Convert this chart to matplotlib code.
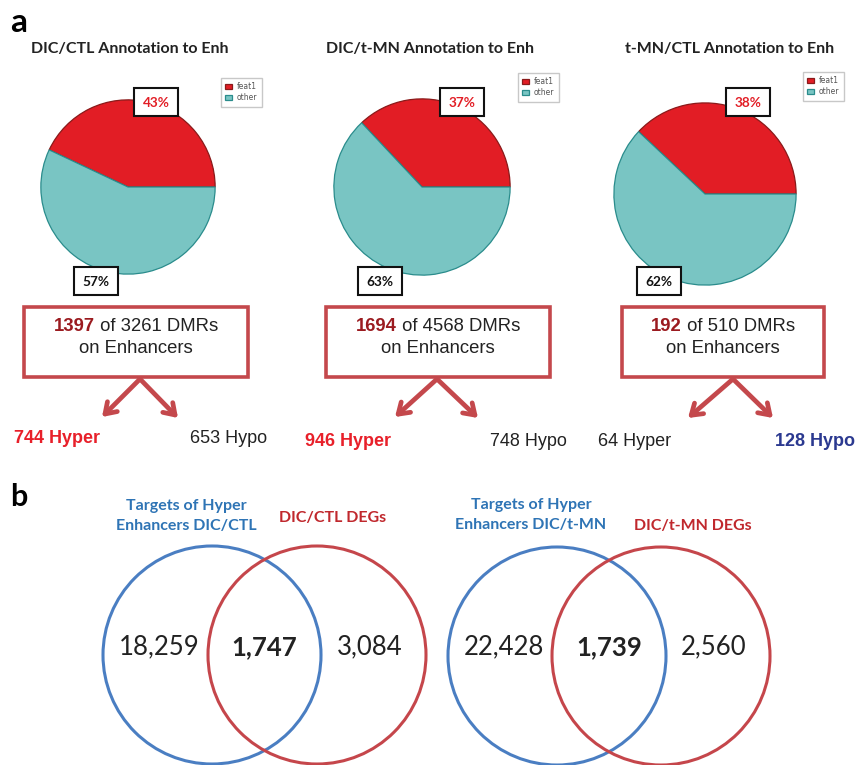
import numpy as np
import matplotlib
matplotlib.use("Agg")
import matplotlib.pyplot as plt
from matplotlib.patches import Rectangle, Circle

# ---- data ----
pie_titles = ["DIC/CTL Annotation to Enh", "DIC/t-MN Annotation to Enh", "t-MN/CTL Annotation to Enh"]
feat1_pct = [43, 37, 38]
other_pct = [57, 63, 62]
dmr_enh = [1397, 1694, 192]
dmr_total = [3261, 4568, 510]
n_hyper = [744, 946, 64]
n_hypo = [653, 748, 128]

venn_left_labels = ["Targets of Hyper\nEnhancers DIC/CTL", "Targets of Hyper\nEnhancers DIC/t-MN"]
venn_right_labels = ["DIC/CTL DEGs", "DIC/t-MN DEGs"]
venn_only_targets = [18259, 22428]
venn_overlap = [1747, 1739]
venn_only_degs = [3084, 2560]

W, H = 858, 765
RED = "#E21D25"
TEAL = "#79C5C3"
BOXRED = "#C4484C"
DARKRED = "#9B1B20"
HYPO_BLUE = "#2B3990"
VBLUE = "#4A7EC2"
VRED = "#C5464B"
LBLUE = "#2E74B5"
LRED = "#C0282D"

CAL = "Lato"
HEL = "Liberation Sans"

fig = plt.figure(figsize=(W / 100, H / 100), dpi=100)
ax = fig.add_axes([0, 0, 1, 1])
ax.set_xlim(0, W)
ax.set_ylim(H, 0)
ax.axis("off")
ax.set_zorder(10)  # keep label boxes above the pie axes

# panel layout (pixels)
pie_cx = [128, 422, 705]
pie_cy = [187, 187, 194]
pie_r = [88, 89, 92]
title_x = [130, 430, 730]
legend_xy = [(217, 74), (514, 69), (799, 68)]
top_box = [(134, 88), (440, 88), (726, 88)]
bot_box = [(74, 267), (358, 267), (637, 267)]
dmr_box = [(24, 307, 224, 70), (326, 307, 224, 70), (622, 307, 202, 70)]
apex = [(140, 379), (437, 379), (733, 379)]
tip_l = [(102, 417), (395, 417), (688, 418)]
tip_r = [(178, 418), (478, 418), (773, 418)]
hyper_x = [57, 348, 635]
hypo_x = [229, 528, 815]
hyp_y = [438, 441, 441]

fig.canvas.draw()
renderer = fig.canvas.get_renderer()


def text_width(s, **kw):
    t = ax.text(0, 0, s, **kw)
    bb = t.get_window_extent(renderer=renderer)
    t.remove()
    return bb.width


ax.text(10, 22, "a", fontsize=24, fontweight="bold", family=CAL, va="center", ha="left")
ax.text(10, 497, "b", fontsize=22, fontweight="bold", family=CAL, va="center", ha="left")

for i in range(3):
    ax.text(title_x[i], 49, pie_titles[i], fontsize=11.5, fontweight="bold", family=CAL,
            ha="center", va="center", color="#222222")

    r = pie_r[i]
    pax = fig.add_axes([(pie_cx[i] - r) / W, 1 - (pie_cy[i] + r) / H, 2 * r / W, 2 * r / H])
    wedges, _ = pax.pie([feat1_pct[i], other_pct[i]], colors=[RED, TEAL], startangle=0,
                        counterclock=True, wedgeprops=dict(linewidth=0.9))
    wedges[0].set_edgecolor("#8A1A1A")
    wedges[1].set_edgecolor("#2A8C8C")
    pax.set_xlim(-1.01, 1.01)
    pax.set_ylim(-1.01, 1.01)
    pax.set_aspect("equal")

    lx, ly = legend_xy[i]
    fig.legend(wedges, ["feat1", "other"], loc="upper left",
               bbox_to_anchor=(lx / W, 1 - ly / H), fontsize=5.5, frameon=True,
               fancybox=False, edgecolor="#BBBBBB", handlelength=0.9, handleheight=0.7,
               borderpad=0.6, labelspacing=0.2, handletextpad=0.6, labelcolor="#555555")

    # percent boxes
    for (bx, by), val, col in [(top_box[i], feat1_pct[i], RED), (bot_box[i], other_pct[i], "#111111")]:
        ax.add_patch(Rectangle((bx, by), 44, 28, facecolor="white", edgecolor="#111111", lw=1.5, zorder=5))
        ax.text(bx + 22, by + 14.5, f"{val}%", fontsize=9.8, fontweight="bold", family=CAL,
                color=col, ha="center", va="center", zorder=6)

    # DMR box
    x0, y0, bw, bh = dmr_box[i]
    ax.add_patch(Rectangle((x0, y0), bw, bh, facecolor="white", edgecolor=BOXRED, lw=2.6))
    part1 = f"{dmr_enh[i]}"
    part2 = f" of {dmr_total[i]} DMRs"
    w1 = text_width(part1, fontsize=13.3, fontweight="bold", family=HEL)
    w2 = text_width(part2, fontsize=13.3, family=HEL)
    xs = x0 + bw / 2 - (w1 + w2) / 2
    ax.text(xs, y0 + 19, part1, fontsize=13.3, fontweight="bold", family=HEL, color=DARKRED,
            ha="left", va="center")
    ax.text(xs + w1, y0 + 19, part2, fontsize=13.3, family=HEL, color="#222222", ha="left", va="center")
    ax.text(x0 + bw / 2, y0 + 41, "on Enhancers", fontsize=13.3, family=HEL, color="#222222",
            ha="center", va="center")

    # arrows
    for tip in (tip_l[i], tip_r[i]):
        ax.annotate("", xy=tip, xytext=apex[i],
                    arrowprops=dict(arrowstyle="->,head_length=0.75,head_width=0.5",
                                    lw=3.4, color=BOXRED, shrinkA=0, shrinkB=0))

    hyper_big = n_hyper[i] > n_hypo[i]
    ax.text(hyper_x[i], hyp_y[i], f"{n_hyper[i]} Hyper", fontsize=13, family=HEL,
            fontweight="bold" if hyper_big else "normal",
            color="#E8202A" if hyper_big else "#222222", ha="center", va="center")
    ax.text(hypo_x[i], hyp_y[i], f"{n_hypo[i]} Hypo", fontsize=13, family=HEL,
            fontweight="normal" if hyper_big else "bold",
            color="#222222" if hyper_big else HYPO_BLUE, ha="center", va="center")

# ---- venn diagrams ----
venn_bc = [(212, 655), (557, 656)]
venn_rc = [(317, 655), (661, 656)]
venn_r = 109
left_label_xy = [(186, 516), (531, 515)]
right_label_xy = [(333, 518), (693, 526)]
num_y = 647

for j in range(2):
    bx, by = venn_bc[j]
    rx, ry = venn_rc[j]
    ax.add_patch(Circle((bx, by), venn_r, fill=False, edgecolor=VBLUE, lw=2.2))
    ax.add_patch(Circle((rx, ry), venn_r, fill=False, edgecolor=VRED, lw=2.2))
    ax.text(*left_label_xy[j], venn_left_labels[j], fontsize=11.5, fontweight="bold", family=CAL,
            color=LBLUE, ha="center", va="center", linespacing=1.55)
    ax.text(*right_label_xy[j], venn_right_labels[j], fontsize=11.5, fontweight="bold", family=CAL,
            color=LRED, ha="center", va="center")
    ax.text((bx - venn_r + rx - venn_r) / 2 + 4, num_y, f"{venn_only_targets[j]:,}", fontsize=18.5,
            family=CAL, color="#222222", ha="center", va="center")
    ax.text((bx + rx) / 2, num_y, f"{venn_overlap[j]:,}", fontsize=18.5, fontweight="bold",
            family=CAL, color="#222222", ha="center", va="center")
    ax.text((bx + venn_r + rx + venn_r) / 2 - 4, num_y, f"{venn_only_degs[j]:,}", fontsize=18.5,
            family=CAL, color="#222222", ha="center", va="center")

fig.savefig("out.png", dpi=100)
